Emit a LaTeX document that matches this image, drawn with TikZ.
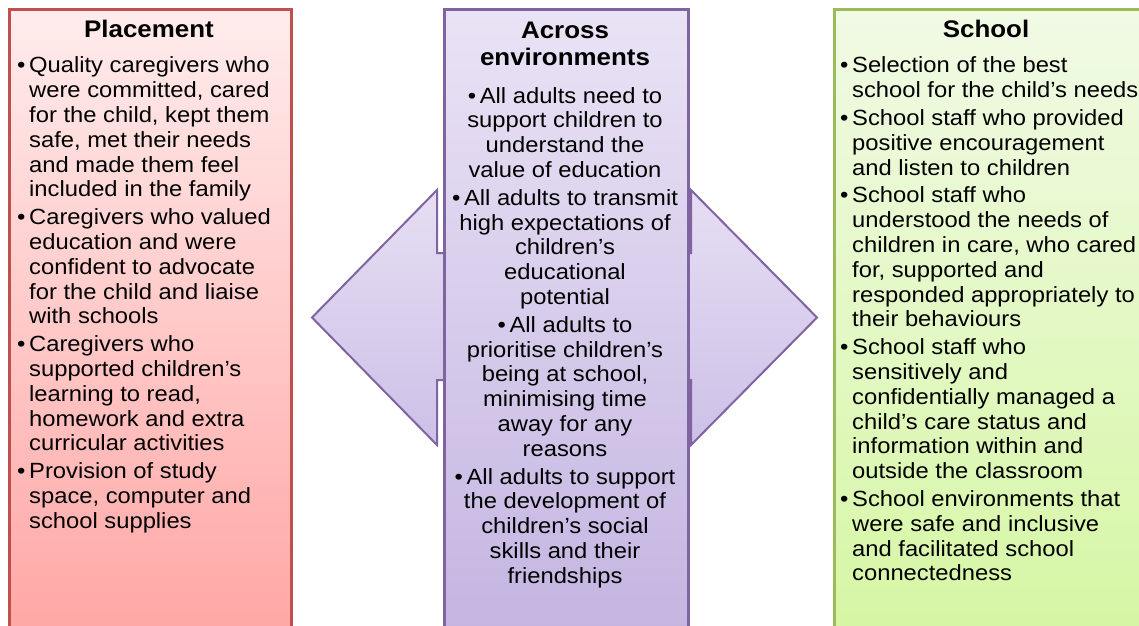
\documentclass[tikz,border=0pt]{standalone}
\usepackage{fontspec}
\setmainfont[FakeStretch=1.08]{Liberation Sans}
\usepackage{tikz}
\usetikzlibrary{positioning}

\definecolor{plline}{RGB}{192,80,77}
\definecolor{pltop}{RGB}{255,236,236}
\definecolor{plbot}{RGB}{255,163,161}
\definecolor{acline}{RGB}{128,100,162}
\definecolor{actop}{RGB}{234,227,245}
\definecolor{acbot}{RGB}{194,178,224}
\definecolor{arrtop}{RGB}{230,222,243}
\definecolor{arrbot}{RGB}{205,192,231}
\definecolor{scline}{RGB}{155,187,89}
\definecolor{sctop}{RGB}{241,250,229}
\definecolor{scbot}{RGB}{212,246,160}

\newcommand{\blt}{\makebox[12pt][l]{\textbullet}}
\newcommand{\ind}{\hspace*{12pt}}

\begin{document}
\begin{tikzpicture}[x=1pt, y=-1pt, box/.style={draw, line width=2.5pt, rectangle, anchor=north west, minimum height=660pt}, placebox/.style={box, draw=plline, top color=pltop, bottom color=plbot}, acrossbox/.style={box, draw=acline, top color=actop, bottom color=acbot}, schoolbox/.style={box, draw=scline, top color=sctop, bottom color=scbot}, heading/.style={anchor=base, inner sep=0pt, font=\fontsize{24}{27}\selectfont\bfseries, align=center}, items/.style={anchor=north west, inner sep=0pt, font=\fontsize{22}{24.8}\selectfont, align=left}, citems/.style={anchor=north, inner sep=0pt, font=\fontsize{22}{24.8}\selectfont, align=center}]

\useasboundingbox (0,0) rectangle (1139,625);
\clip (0,0) rectangle (1139,625);

\fill[top color=arrtop, bottom color=arrbot] (437,190) -- (312,317.5) -- (437,445) -- (437,380) -- (691,380) -- (691,445) -- (817,317.5) -- (691,190) -- (691,253) -- (437,253) -- cycle;
\draw[acline, line width=2pt, line join=miter] (437,190) -- (312,317.5) -- (437,445) -- (437,380) -- (691,380) -- (691,445) -- (817,317.5) -- (691,190) -- (691,253) -- (437,253) -- cycle;

\node[placebox, minimum width=282pt] (placement) at (8,8) {};
\node[acrossbox, minimum width=244pt] (across) at (443,8) {};
\node[schoolbox, minimum width=330pt] (school) at (833,8) {};

\node[heading] (placetitle) at (149,37) {Placement};
\node[heading] (acrosstitle) at (565,65) {Across\\environments};
\node[heading] (schooltitle) at (986,37) {School};

\node[items] (placeitems) at (17,55.3) {\strut\blt Quality caregivers who\\ \ind were committed, cared\\ \ind for the child, kept them\\ \ind safe, met their needs\\ \ind and made them feel\\ \ind included in the family\\[3pt]
\blt Caregivers who valued\\ \ind education and were\\ \ind confident to advocate\\ \ind for the child and liaise\\ \ind with schools\\[3pt]
\blt Caregivers who\\ \ind supported children’s\\ \ind learning to read,\\ \ind homework and extra\\ \ind curricular activities\\[3pt]
\blt Provision of study\\ \ind space, computer and\\ \ind school supplies};

\node[citems] (acrossitems) at (565,85.6) {\strut\textbullet\,All adults need to\\ support children to\\ understand the\\ value of education\\[3pt]
\textbullet\,All adults to transmit\\ high expectations of\\ children’s\\ educational\\ potential\\[3pt]
\textbullet\,All adults to\\ prioritise children’s\\ being at school,\\ minimising time\\ away for any\\ reasons\\[3pt]
\textbullet\,All adults to support\\ the development of\\ children’s social\\ skills and their\\ friendships};

\node[items] (schoolitems) at (840,55.3) {\strut\blt Selection of the best\\ \ind school for the child’s needs\\[3pt]
\blt School staff who provided\\ \ind positive encouragement\\ \ind and listen to children\\[3pt]
\blt School staff who\\ \ind understood the needs of\\ \ind children in care, who cared\\ \ind for, supported and\\ \ind responded appropriately to\\ \ind their behaviours\\[3pt]
\blt School staff who\\ \ind sensitively and\\ \ind confidentially managed a\\ \ind child’s care status and\\ \ind information within and\\ \ind outside the classroom\\[3pt]
\blt School environments that\\ \ind were safe and inclusive\\ \ind and facilitated school\\ \ind connectedness};

\end{tikzpicture}
\end{document}
